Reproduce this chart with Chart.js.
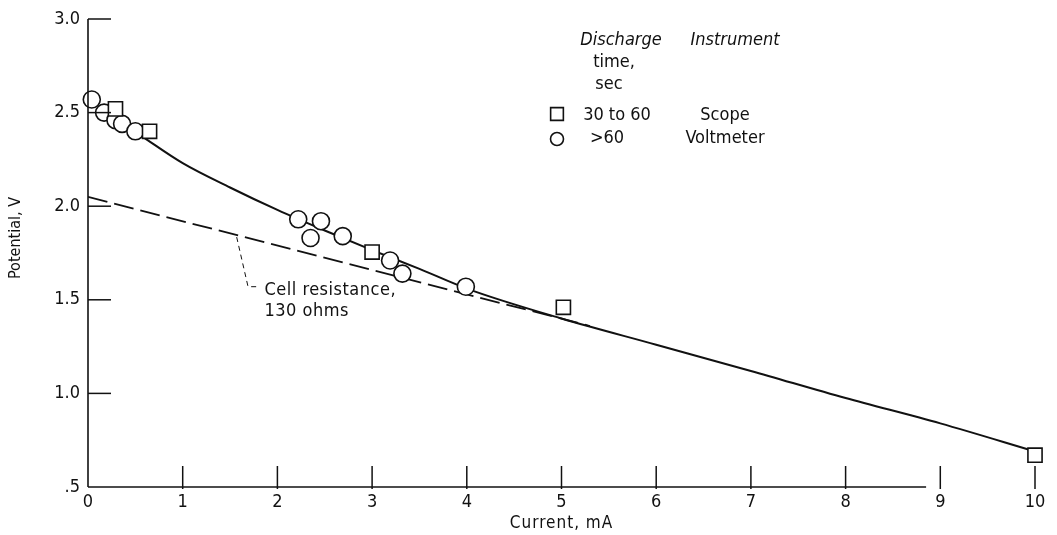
<!DOCTYPE html>
<html>
<head>
<meta charset="utf-8">
<script src="https://cdn.jsdelivr.net/npm/chart.js@4/dist/chart.umd.min.js"></script>
<style>
  html, body { margin: 0; padding: 0; background: #fff; }
  #wrap { width: 1057px; height: 535px; position: relative; }
</style>
</head>
<body>
<div id="wrap"><canvas id="c" width="1057" height="535"></canvas></div>
<script>
// ---- data ----
const xTickValues = [0, 1, 2, 3, 4, 5, 6, 7, 8, 9, 10];
const xTickLabels = ['0', '1', '2', '3', '4', '5', '6', '7', '8', '9', '10'];
const yTickValues = [0.5, 1.0, 1.5, 2.0, 2.5, 3.0];
const yTickLabels = ['.5', '1.0', '1.5', '2.0', '2.5', '3.0'];

// Scope, 30 to 60 sec (squares)
const scopeCurrent = [0.29, 0.65, 3.0, 5.02, 10.0];
const scopePotential = [2.52, 2.40, 1.755, 1.46, 0.67];

// Voltmeter, >60 sec (circles)
const voltCurrent = [0.04, 0.17, 0.29, 0.36, 0.50, 2.22, 2.46, 2.35, 2.69, 3.19, 3.32, 3.99];
const voltPotential = [2.57, 2.50, 2.46, 2.44, 2.40, 1.93, 1.92, 1.83, 1.84, 1.71, 1.64, 1.57];

// Faired curve
const curveCurrent = [0.55, 1.0, 1.5, 2.0, 2.5, 3.0, 3.5, 4.0, 5.0, 6.0, 7.0, 8.0, 9.0, 10.0];
const curvePotential = [2.38, 2.23, 2.10, 1.98, 1.87, 1.765, 1.665, 1.56, 1.40, 1.26, 1.12, 0.975, 0.84, 0.69];

// Cell resistance line (130 ohms)
const resCurrent = [0.0, 5.3];
const resPotential = [2.05, 1.36];

// Leader line for the annotation
const leaderCurrent = [1.57, 1.69, 1.80];
const leaderPotential = [1.835, 1.57, 1.57];

const xAxisLineEnd = 8.85;

const zip = (xs, ys) => xs.map((x, i) => ({ x: x, y: ys[i] }));

const FONT = "'Liberation Sans Narrow', 'DejaVu Sans Condensed', 'Roboto Condensed', sans-serif";
const INK = '#111';

const framePlugin = {
  id: 'frame',
  afterDraw(chart) {
    const ctx = chart.ctx;
    const xs = chart.scales.x, ys = chart.scales.y;
    const x0 = xs.getPixelForValue(0);
    const yb = ys.getPixelForValue(0.5);
    const yt = ys.getPixelForValue(3.0);
    ctx.save();
    ctx.strokeStyle = INK;
    ctx.lineWidth = 1.6;
    ctx.lineCap = 'butt';
    // y axis
    ctx.beginPath();
    ctx.moveTo(x0, yt); ctx.lineTo(x0, yb);
    ctx.stroke();
    // x axis (partial, like reference)
    ctx.lineWidth = 1.3;
    ctx.beginPath();
    ctx.moveTo(x0, yb); ctx.lineTo(xs.getPixelForValue(xAxisLineEnd), yb);
    ctx.stroke();
    // y ticks (inward)
    ctx.lineWidth = 1.5;
    yTickValues.forEach(v => {
      if (v === 0.5) return;
      const py = ys.getPixelForValue(v);
      ctx.beginPath(); ctx.moveTo(x0, py); ctx.lineTo(x0 + 23, py); ctx.stroke();
    });
    // x ticks (inward)
    xTickValues.forEach(v => {
      if (v === 0) return;
      const px = xs.getPixelForValue(v);
      ctx.beginPath(); ctx.moveTo(px, yb + 2); ctx.lineTo(px, yb - 21); ctx.stroke();
    });

    // axis titles
    ctx.fillStyle = INK;
    ctx.textBaseline = 'middle';
    ctx.textAlign = 'center';
    ctx.font = '17px ' + FONT;
    ctx.letterSpacing = '1px';
    ctx.fillText('Current, mA', (xs.left + xs.right) / 2, 524);
    ctx.letterSpacing = '0px';
    ctx.save();
    ctx.translate(16, 238);
    ctx.rotate(-Math.PI / 2);
    ctx.font = '16px ' + FONT;
    ctx.fillText('Potential, V', 0, 0);
    ctx.restore();

    // annotation text
    ctx.textAlign = 'left';
    ctx.font = '18px ' + FONT;
    ctx.letterSpacing = '0.5px';
    const ax = xs.getPixelForValue(leaderCurrent[2]) + 6;
    ctx.fillText('Cell resistance,', ax, ys.getPixelForValue(leaderPotential[2]) + 4);
    ctx.fillText('130 ohms', ax, ys.getPixelForValue(leaderPotential[2]) + 25);
    ctx.letterSpacing = '0px';

    // legend
    const lx = 557;
    ctx.font = 'italic 18px ' + FONT;
    ctx.textAlign = 'center';
    ctx.fillText('Discharge', 621, 40);
    ctx.fillText('Instrument', 735, 40);
    ctx.font = '18px ' + FONT;
    ctx.fillText('time,', 614, 62);
    ctx.fillText('sec', 609, 84);
    ctx.fillText('30 to 60', 617, 115);
    ctx.fillText('Scope', 725, 115);
    ctx.fillText('>60', 607, 138);
    ctx.fillText('Voltmeter', 725, 138);
    ctx.fillStyle = '#fff';
    ctx.strokeStyle = INK;
    ctx.lineWidth = 1.6;
    Chart.helpers.drawPoint(ctx, { pointStyle: 'rect', radius: 9, borderWidth: 1.6, rotation: 0 }, lx, 114);
    Chart.helpers.drawPoint(ctx, { pointStyle: 'circle', radius: 6.5, borderWidth: 1.6, rotation: 0 }, lx, 139);
    ctx.restore();
  }
};

new Chart(document.getElementById('c'), {
  type: 'scatter',
  data: {
    datasets: [
      {
        label: 'Curve',
        data: zip(curveCurrent, curvePotential),
        showLine: true,
        borderColor: INK,
        borderWidth: 2,
        pointRadius: 0,
        cubicInterpolationMode: 'monotone',
        fill: false,
        order: 3
      },
      {
        label: 'Cell resistance',
        data: zip(resCurrent, resPotential),
        showLine: true,
        borderColor: INK,
        borderWidth: 1.8,
        borderDash: [20, 7],
        pointRadius: 0,
        fill: false,
        order: 4
      },
      {
        label: 'Leader',
        data: zip(leaderCurrent, leaderPotential),
        showLine: true,
        borderColor: INK,
        borderWidth: 1,
        borderDash: [5, 4],
        pointRadius: 0,
        fill: false,
        order: 5
      },
      {
        label: 'Scope (30 to 60 sec)',
        data: zip(scopeCurrent, scopePotential),
        pointStyle: 'rect',
        pointRadius: 10,
        pointBorderWidth: 1.6,
        pointBackgroundColor: '#fff',
        pointBorderColor: INK,
        clip: false,
        order: 1
      },
      {
        label: 'Voltmeter (>60 sec)',
        data: zip(voltCurrent, voltPotential),
        pointStyle: 'circle',
        pointRadius: 8.5,
        pointBorderWidth: 1.6,
        pointBackgroundColor: '#fff',
        pointBorderColor: INK,
        clip: false,
        order: 2
      }
    ]
  },
  options: {
    responsive: false,
    animation: false,
    layout: { padding: { top: 19, right: 22, left: 0, bottom: 0 } },
    plugins: { legend: { display: false }, tooltip: { enabled: false } },
    scales: {
      x: {
        type: 'linear',
        min: 0, max: 10,
        afterFit(s) { s.height = 48; },
        afterBuildTicks(s) { s.ticks = xTickValues.map(v => ({ value: v })); },
        grid: { display: false, drawTicks: false },
        border: { display: false },
        ticks: {
          padding: 5,
          color: INK,
          font: { family: FONT, size: 18 },
          maxRotation: 0,
          autoSkip: false,
          callback: (v) => xTickLabels[xTickValues.indexOf(v)]
        }
      },
      y: {
        type: 'linear',
        min: 0.5, max: 3.0,
        afterFit(s) { s.width = 88; },
        afterBuildTicks(s) { s.ticks = yTickValues.map(v => ({ value: v })); },
        grid: { display: false, drawTicks: false },
        border: { display: false },
        ticks: {
          padding: 8,
          color: INK,
          font: { family: FONT, size: 18 },
          autoSkip: false,
          callback: (v) => yTickLabels[yTickValues.findIndex(t => Math.abs(t - v) < 1e-6)]
        }
      }
    }
  },
  plugins: [framePlugin]
});
</script>
</body>
</html>
